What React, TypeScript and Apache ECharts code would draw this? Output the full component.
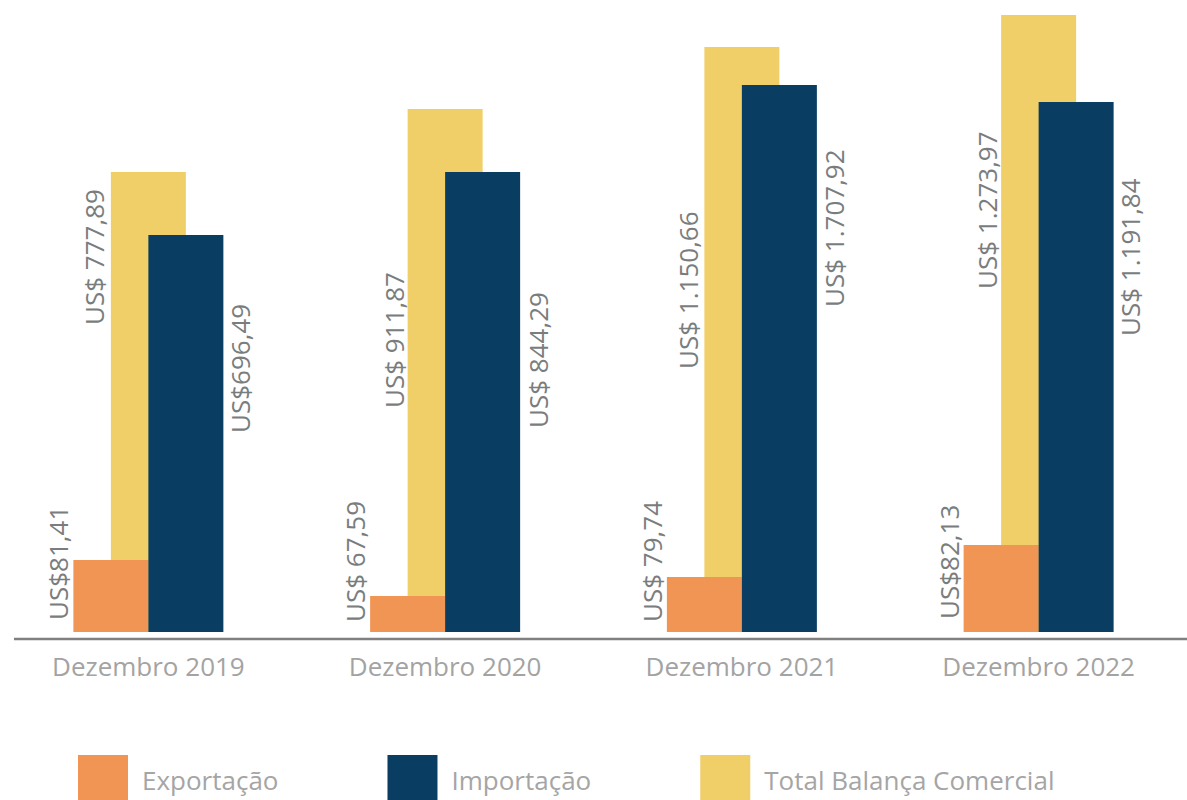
import React, { useEffect, useRef } from "react";
import * as echarts from "echarts";

const categories = ["Dezembro 2019", "Dezembro 2020", "Dezembro 2021", "Dezembro 2022"];
const seriesNames = ["Exportação", "Importação", "Total Balança Comercial"];

// Bar heights as drawn in the reference (drawing units; the picture is not to scale with its labels)
const exportHeights = [72, 36, 55, 87];
const importHeights = [397, 460, 547, 530];
const totalHeights = [460, 523, 585, 617];

// Value labels as printed in the reference
const exportLabels = ["US$81,41", "US$ 67,59", "US$ 79,74", "US$82,13"];
const importLabels = ["US$696,49", "US$ 844,29", "US$ 1.707,92", "US$ 1.191,84"];
const totalLabels = ["US$ 777,89", "US$ 911,87", "US$ 1.150,66", "US$ 1.273,97"];

// Label anchor offsets (px) relative to each bar's top-left corner (style only)
const exportLabelPos = [[-15, 60], [-15, 26], [-15, 45], [-14.5, 74]];
const importLabelPos = [[92, 198], [92.5, 256], [92.5, 222], [91.5, 234]];
const totalLabelPos = [[-16.5, 153], [-13.5, 299], [-16, 322], [-14.5, 274]];

const COLORS = { exp: "#F09553", imp: "#093D62", tot: "#F0CF68" };
const FONT = "'Open Sans', 'Noto Sans', sans-serif";

function buildData(values: number[], pos: number[][]) {
  return values.map((v, i) => ({ value: v, label: { position: pos[i] } }));
}

function barLabel(texts: string[]) {
  return {
    show: true,
    rotate: 90,
    align: "left",
    verticalAlign: "middle",
    fontFamily: FONT,
    fontSize: 26,
    color: "#7a7d7d",
    formatter: (p: any) => texts[p.dataIndex],
  };
}

export default function App() {
  const ref = useRef<HTMLDivElement>(null);
  useEffect(() => {
    if (!ref.current) return;
    const chart = echarts.init(ref.current, undefined, { renderer: "svg" });
    chart.setOption({
      animation: false,
      backgroundColor: "#ffffff",
      grid: { left: -5, right: -4, top: 12, bottom: 168, containLabel: false },
      legend: {
        data: seriesNames,
        left: 78,
        top: 755,
        padding: 0,
        itemWidth: 50,
        itemHeight: 50,
        itemGap: 109,
        icon: "rect",
        textStyle: { fontFamily: FONT, fontSize: 26, color: "#a5a5a5", padding: [0, 0, 0, 9] },
      },
      xAxis: [
        {
          type: "category",
          data: categories,
          axisLine: { show: false },
          axisTick: { show: false },
          axisLabel: { fontFamily: FONT, fontSize: 26, color: "#a3a3a3", margin: 21 },
        },
        { type: "category", data: categories, show: false },
      ],
      yAxis: { type: "value", min: 0, max: 620, show: false, splitLine: { show: false } },
      graphic: [
        {
          type: "line",
          shape: { x1: 14, y1: 639, x2: 1187, y2: 639 },
          style: { stroke: "#808080", lineWidth: 2.5 },
          silent: true,
        },
      ],
      series: [
        {
          name: seriesNames[2],
          type: "bar",
          xAxisIndex: 1,
          barWidth: 75,
          itemStyle: { color: COLORS.tot },
          label: barLabel(totalLabels),
          data: buildData(totalHeights, totalLabelPos),
        },
        {
          name: seriesNames[0],
          type: "bar",
          xAxisIndex: 0,
          barWidth: 75,
          barGap: "0%",
          itemStyle: { color: COLORS.exp },
          label: barLabel(exportLabels),
          data: buildData(exportHeights, exportLabelPos),
        },
        {
          name: seriesNames[1],
          type: "bar",
          xAxisIndex: 0,
          barWidth: 75,
          barGap: "0%",
          itemStyle: { color: COLORS.imp },
          label: barLabel(importLabels),
          data: buildData(importHeights, importLabelPos),
        },
      ],
    });
    return () => chart.dispose();
  }, []);
  return (
    <div
      ref={ref}
      style={{ position: "fixed", left: 0, top: 0, width: 1187, height: 800 }}
    />
  );
}
